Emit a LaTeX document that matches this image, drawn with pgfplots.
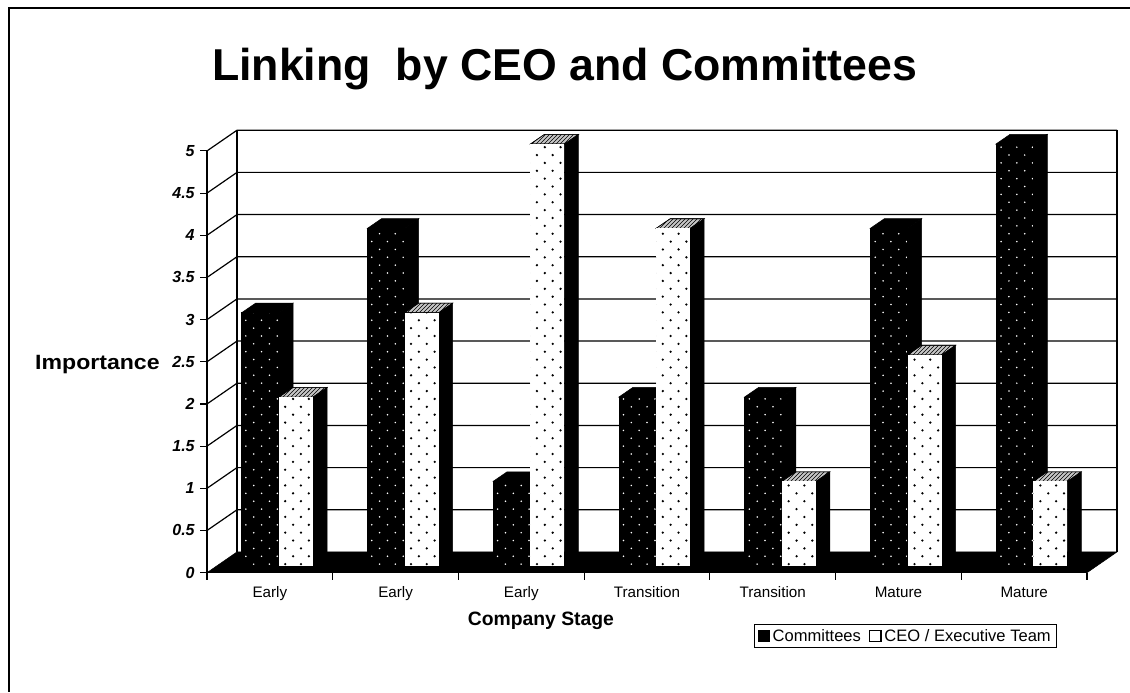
\documentclass[border=0pt]{standalone}
\usepackage{fontspec}
\setmainfont{Liberation Sans}
\usepackage{pgfplots}
\pgfplotsset{compat=1.18}
\usetikzlibrary{patterns}

% Staggered lattices of small dots for the bar faces
\pgfdeclarepatternformonly{stagdots}{\pgfqpoint{-1pt}{-1pt}}{\pgfqpoint{11pt}{11pt}}{\pgfqpoint{11.8pt}{11.8pt}}{%
  \pgfpathcircle{\pgfqpoint{1.5pt}{1.5pt}}{0.95pt}%
  \pgfpathcircle{\pgfqpoint{7.4pt}{7.4pt}}{0.95pt}%
  \pgfusepath{fill}%
}
\pgfdeclarepatternformonly{stagdotsfine}{\pgfqpoint{-1pt}{-1pt}}{\pgfqpoint{11pt}{11pt}}{\pgfqpoint{11.8pt}{11.8pt}}{%
  \pgfpathcircle{\pgfqpoint{1.5pt}{1.5pt}}{0.65pt}%
  \pgfpathcircle{\pgfqpoint{7.4pt}{7.4pt}}{0.65pt}%
  \pgfusepath{fill}%
}

\tikzset{
  wall line/.style={black,line width=0.9pt},
  committee front/.style={preaction={fill=black},pattern=stagdotsfine,pattern color=white,draw=black,line width=0.4pt},
  committee side/.style={fill=black,draw=black,line width=0.4pt},
  committee top/.style={fill=black,draw=black,line width=0.4pt},
  ceo front/.style={preaction={fill=white},pattern=stagdots,pattern color=black,draw=none},
  ceo side/.style={fill=black,draw=black,line width=0.4pt},
  ceo top/.style={preaction={fill=gray!45},pattern=north east lines,pattern color=black,draw=black,line width=0.4pt},
}

% Bar as a box: category, left and right edge within the category, value, style prefix
\newcommand{\cuboid}[5]{%
  \pgfmathsetmacro\xl{#1+#2}%
  \pgfmathsetmacro\xr{#1+#3}%
  \pgfmathsetmacro\xrb{\xr+0.1114}%
  \pgfmathsetmacro\xlb{\xl+0.1114}%
  \pgfmathsetmacro\yf{#4+0.082}%
  \pgfmathsetmacro\yb{#4+0.196}%
  \edef\faces{%
    \noexpand\addplot[forget plot,#5 side] coordinates {(\xr,0.082) (\xrb,0.196) (\xrb,\yb) (\xr,\yf)} --cycle;
    \noexpand\addplot[forget plot,#5 top] coordinates {(\xl,\yf) (\xlb,\yb) (\xrb,\yb) (\xr,\yf)} --cycle;
    \noexpand\addplot[forget plot,#5 front] coordinates {(\xl,0.082) (\xr,0.082) (\xr,\yf) (\xl,\yf)} --cycle;
  }%
  \faces
}
\newcommand{\committees}[2]{\cuboid{#1}{0.2760}{0.5727}{#2}{committee}}
\newcommand{\ceo}[2]{\cuboid{#1}{0.5727}{0.8432}{#2}{ceo}}
% Value line across the side wall and the back wall
\newcommand{\wall}[2]{%
  \addplot[forget plot,wall line] coordinates {(0,#1) (0.2386,#2) (7.2386,#2)};
}

\begin{document}
\begin{tikzpicture}[x=1pt,y=1pt]
\path[use as bounding box] (0,0) rectangle (847.5,519);
% Page rule along the top and the left edge
\draw[line width=1.5pt] (847.5,513) -- (7,513) -- (7,0);

\begin{axis}[
  at={(155.25pt,89.5pt)}, anchor=south west,
  scale only axis, width=660pt, height=316.3pt,
  xmin=0, xmax=7, ymin=0, ymax=5,
  clip=false,
  axis x line*=bottom, axis y line*=left,
  axis line style={line width=0.9pt,-},
  title={\fontsize{33.5pt}{36pt}\selectfont\bfseries Linking\ \ by CEO and Committees},
  title style={at={(0.4063,1.176)},anchor=center,inner sep=0pt},
  xlabel={\bfseries Company Stage},
  xlabel style={font=\fontsize{14.5pt}{16pt}\selectfont,at={(0.3795,-0.1135)},anchor=center,inner sep=0pt},
  ylabel={\scalebox{1.117}[1]{\bfseries Importance}},
  ylabel style={font=\fontsize{15.5pt}{16pt}\selectfont,rotate=-90,at={(-0.1245,0.494)},anchor=center,inner sep=0pt},
  xtick={0,1,2,3,4,5,6,7},
  x tick label as interval,
  xticklabels={Early,Early,Early,Transition,Transition,Mature,Mature},
  xticklabel style={font=\fontsize{11.4pt}{13pt}\selectfont,yshift=-1pt},
  typeset ticklabels with strut,
  x tick style={black,line width=0.8pt},
  ytick={0,0.5,1,1.5,2,2.5,3,3.5,4,4.5,5},
  yticklabels={0,0.5,1,1.5,2,2.5,3,3.5,4,4.5,5},
  yticklabel style={font=\fontsize{12pt}{13pt}\selectfont\bfseries\itshape,xshift=-0.5pt,yshift=-1.5pt},
  y tick style={black,line width=0.8pt},
  major tick length=5.25pt,
  tick align=outside, xtick pos=bottom, ytick pos=left,
  legend columns=2,
  legend style={at={(0.6216,-0.1216)},anchor=north west,draw=black,line width=0.7pt,
    font=\fontsize{12.4pt}{13pt}\selectfont,inner xsep=2.5pt,inner ysep=1.5pt,
    /tikz/every even column/.style={column sep=4pt}},
  legend cell align=left,
  legend image code/.code={\draw[#1] (1pt,-4pt) rectangle (9.5pt,4pt);},
]
% Back wall outline
\addplot[forget plot,wall line] coordinates {(0.2386,0.2455) (0.2386,5.2455) (7.2386,5.2455) (7.2386,0.2455)};
% Value lines
\wall{0.5}{0.7455}
\wall{1}{1.2455}
\wall{1.5}{1.7455}
\wall{2}{2.2455}
\wall{2.5}{2.7455}
\wall{3}{3.2455}
\wall{3.5}{3.7455}
\wall{4}{4.2455}
\wall{4.5}{4.7455}
\wall{5}{5.2455}
% Floor
\addplot[forget plot,fill=black,draw=black] coordinates {(0,0) (7,0) (7.2386,0.2455) (0.2386,0.2455)} --cycle;

% Bars: Committees and CEO / Executive Team for each company
\committees{0}{3}  \ceo{0}{2}
\committees{1}{4}  \ceo{1}{3}
\committees{2}{1}  \ceo{2}{5}
\committees{3}{2}  \ceo{3}{4}
\committees{4}{2}  \ceo{4}{1}
\committees{5}{4}  \ceo{5}{2.5}
\committees{6}{5}  \ceo{6}{1}

\addlegendimage{fill=black,draw=black}
\addlegendentry{Committees}
\addlegendimage{fill=white,draw=black,line width=1.1pt}
\addlegendentry{CEO / Executive Team}
\end{axis}
\end{tikzpicture}
\end{document}
